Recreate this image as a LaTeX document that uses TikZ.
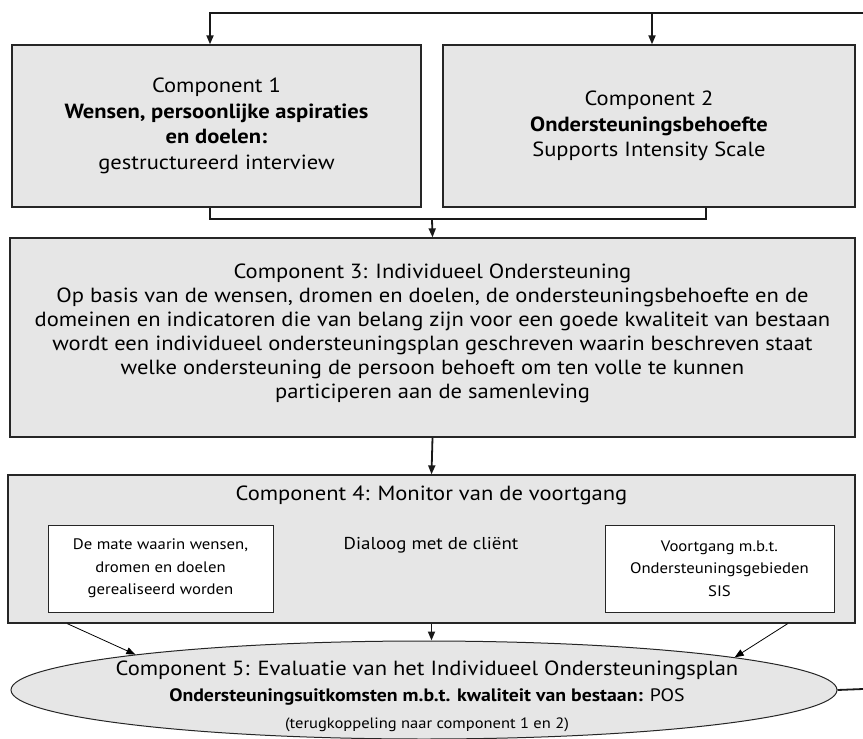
\documentclass[tikz,border=0pt]{standalone}
\usepackage{fontspec}
\setmainfont{PT Sans}[FakeStretch=1.1]
\usetikzlibrary{arrows.meta,shapes.geometric}
\definecolor{boxgray}{RGB}{230,230,230}
\begin{document}
\begin{tikzpicture}[x=1pt,y=-1pt,
    comp/.style={draw=black!85, line width=1.3pt, fill=boxgray, align=center, inner sep=0pt},
    inbox/.style={draw=black!85, line width=1pt, fill=white, align=center, inner sep=0pt,
                  font=\fontsize{15.2}{22.5}\selectfont},
    link/.style={line width=1.8pt, black!90},
    tolink/.style={link, -{Triangle[length=9pt,width=7pt]}},
    thinlink/.style={line width=0.8pt, -{Triangle[length=9pt,width=7pt]}}]
\useasboundingbox (0,0) rectangle (863,739);
\node[comp, minimum width=409pt, minimum height=162pt, font=\fontsize{20.5}{25.5}\selectfont]
  (comp1) at (216.5,126) {Component 1\\ \textbf{Wensen, persoonlijke aspiraties}\\ \textbf{en doelen:}\\ gestructureerd interview};
\node[comp, minimum width=412pt, minimum height=162pt, font=\fontsize{20.5}{25.5}\selectfont]
  (comp2) at (649,126) {Component 2\\ \textbf{Ondersteuningsbehoefte}\\ Supports Intensity Scale};
\node[comp, minimum width=845pt, minimum height=199pt, font=\fontsize{20.5}{24}\selectfont]
  (comp3) at (432.5,337.5) {Component 3: Individueel Ondersteuning\\
  Op basis van de wensen, dromen en doelen, de ondersteuningsbehoefte en de\\
  domeinen en indicatoren die van belang zijn voor een goede kwaliteit van bestaan\\
  wordt een individueel ondersteuningsplan geschreven waarin beschreven staat\\
  welke ondersteuning de persoon behoeft om ten volle te kunnen\\
  participeren aan de samenleving\rule[-12pt]{0pt}{0pt}};
\node[comp, minimum width=847pt, minimum height=148pt] (comp4) at (431.5,549) {};
\node[font=\fontsize{20.5}{24}\selectfont] (c4title) at (431.5,495) {Component 4: Monitor van de voortgang};
\node[inbox, minimum width=225pt, minimum height=87pt] (wishes) at (160.5,568.5)
  {De mate waarin wensen,\\ dromen en doelen\\ gerealiseerd worden};
\node[font=\fontsize{17.2}{20}\selectfont] (dialog) at (431,545) {Dialoog met de cliënt};
\node[inbox, minimum width=229pt, minimum height=87pt] (progress) at (719.5,568.5)
  {Voortgang m.b.t.\\ Ondersteuningsgebieden\\ SIS};
\node[ellipse, draw=black!85, line width=1pt, fill=boxgray, minimum width=826pt, minimum height=98pt,
      inner sep=0pt] (eval) at (424,690) {};
\node[align=center, inner sep=0pt, font=\fontsize{20.5}{26.5}\selectfont] (evaltext) at (427,696)
  {Component 5: Evaluatie van het Individueel Ondersteuningsplan\\
   {\fontsize{18}{26}\selectfont \textbf{Ondersteuningsuitkomsten m.b.t. kwaliteit van bestaan:} POS}\\
   {\fontsize{15}{26}\selectfont (terugkoppeling naar component 1 en 2)}};
\coordinate (fbtop) at (863,12.7);
\coordinate (fbout) at (863,689);
\coordinate (join) at (432,219);
\draw[tolink] (fbtop) -| ([xshift=-6.5pt]comp1.north);
\draw[tolink] ([xshift=3pt]comp2.north |- fbtop) -- ([xshift=3pt]comp2.north);
\draw[link] ([xshift=-6.5pt]comp1.south) |- (join) -| ([xshift=57pt]comp2.south);
\draw[tolink] (join) -- (comp3.north);
\draw[tolink] (comp3.south) -- (comp4.north);
\draw[tolink] (comp4.south) -- (comp4.south |- eval.north);
\draw[thinlink] ([xshift=60pt]comp4.south west) -- (eval.173.5);
\draw[thinlink] ([xshift=-68pt]comp4.south east) -- (eval.6.6);
\draw[link] (eval.east) -- (fbout);
\end{tikzpicture}
\end{document}
